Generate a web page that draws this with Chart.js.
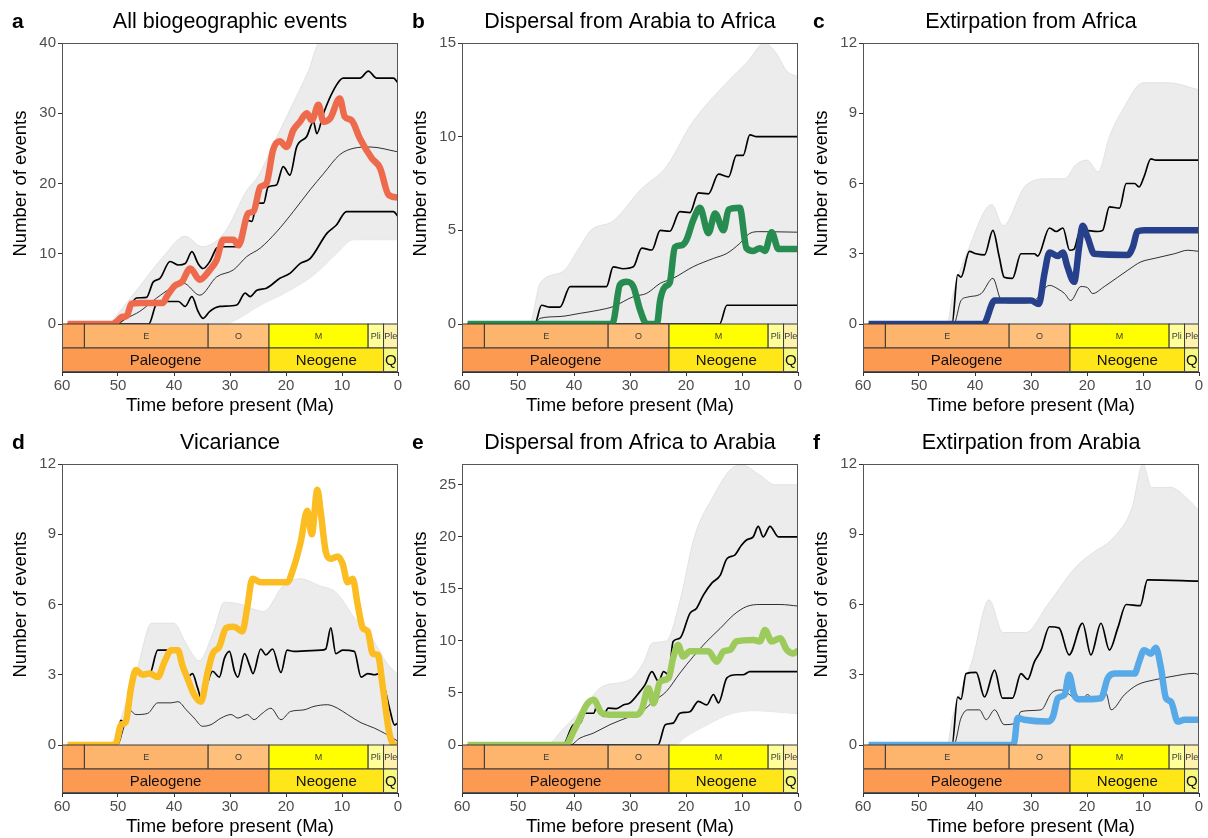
<!DOCTYPE html>
<html>
<head>
<meta charset="utf-8">
<script src="https://cdn.jsdelivr.net/npm/chart.js@4"></script>
<style>
  html, body { margin: 0; padding: 0; background: #fff; overflow: hidden; }
  #wrap { position: relative; width: 1208px; height: 838px; }
  #wrap canvas { position: absolute; }
</style>
</head>
<body>
<div id="wrap"></div>
<script>
// Geological timescale (Ma)
const epochNames = ['', 'E', 'O', 'M', 'Pli', 'Ple'];
const epochStart = [60, 56, 33.9, 23.03, 5.333, 2.58];
const epochEnd = [56, 33.9, 23.03, 5.333, 2.58, 0];
const epochColors = ['#FDA75F', '#FDB46C', '#FEC07A', '#FFFF00', '#FFFF99', '#FFF2AE'];
const periodNames = ['Paleogene', 'Neogene', 'Q'];
const periodStart = [60, 23.03, 2.58];
const periodEnd = [23.03, 2.58, 0];
const periodColors = ['#FD9A52', '#FFE619', '#F9F97F'];

const xTicks = [60, 50, 40, 30, 20, 10, 0];
const ticksA = [0, 10, 20, 30, 40];
const ticksB = [0, 5, 10, 15];
const ticks12 = [0, 3, 6, 9, 12];
const ticksE = [0, 5, 10, 15, 20, 25];

// a - All biogeographic events  [time, events]
const aObs = [[59,0],[51,0],[50.3,0.3],[49.3,1],[48.4,1.2],[47.6,2.9],[46,3],[42,3],[41.3,3.9],[39.8,5.5],[38.6,6],[37.1,7.9],[35.4,6.3],[33.6,7.7],[32.4,9.1],[31.2,12],[29.4,12],[28.5,11.2],[26.7,15.8],[25.8,16],[24.6,19.5],[23.5,20],[22.3,24.8],[21.1,26],[19.9,25.2],[18.7,27.6],[17.5,28.8],[16.3,30],[15.4,29],[14.2,31.2],[13.3,28.8],[12.1,29.3],[10.4,32.1],[9.5,29.5],[8.3,29],[6.8,26.4],[4.7,23.6],[3.2,22.2],[1.7,18.4],[0,18]];
const aHigh = [[59,0],[50.2,0],[48.5,1.5],[46.7,3.7],[44.9,3.8],[43.7,6],[42.5,6.5],[40.7,8.9],[39.2,8.4],[38,8.6],[36.8,10.3],[35.7,8.6],[34.8,7.9],[33.6,8.9],[32.4,10.8],[31.8,11],[28.8,11],[27,14.8],[26.1,14.6],[25.2,17.2],[24,17.2],[23.2,19.5],[21.7,19.8],[20.5,22.4],[19.3,21.2],[18.1,25.2],[16.3,26.7],[15.1,28.8],[14.5,27.1],[13.3,30],[11.5,33.3],[9.8,35],[6.8,35],[5.3,36],[3.8,35],[0.8,35],[0,34.3]];
const aMean = [[59,0],[50.2,0],[48.5,0.8],[46.1,1.8],[43.1,3.7],[40.1,5.3],[38.3,5.8],[35.4,4.1],[32.4,6.7],[29.4,7.7],[27,9.6],[24.6,10.8],[21.7,13.1],[18.7,16],[15.7,19.1],[13.3,21.4],[10.4,24.1],[8,25],[5,25.2],[0,24.5]];
const aLow = [[59,0],[44.5,0],[43.1,2.9],[41.3,3.2],[39.2,3.2],[38,2.5],[36.8,3.9],[35.7,1.8],[34.8,0.8],[33.6,1.8],[31.8,2.5],[28.8,2.7],[27.3,4.4],[26.4,3.9],[25.2,4.8],[23.5,5.1],[21.1,6.5],[19.3,7.2],[17.5,8.6],[15.7,9.3],[12.7,12.9],[11,14.1],[9.2,16],[0.8,16],[0,15.3]];
const aCloudTop = [[59,0],[52,0],[50,1.5],[46,5.5],[42,9.5],[38,12.5],[35,11],[31,13],[27,19],[25,21],[22,26],[19,31],[16,36],[14,40],[0,40]];
const aCloudBottom = [[59,0],[31,0],[28,1],[25,2.5],[20,4.5],[15,7],[11,10],[8,12],[0,12]];

// b - Dispersal from Arabia to Africa
const bObs = [[59,0],[33.5,0],[33,0.1],[31.8,2.1],[30.6,2.25],[29.4,2],[28.2,0.75],[27,0],[25.2,0],[24.6,1.3],[23.7,2],[22.9,2.2],[22,4.1],[20.8,4.2],[19.9,4.5],[18.7,5.55],[17.5,6.2],[16,4.85],[14.8,5.9],[13.3,5],[12.4,6.1],[10.4,6.2],[9.2,4.05],[8,3.9],[6.8,4.05],[5.9,3.9],[4.7,4.9],[3.5,4],[2,4],[0,4]];
const bHigh = [[59,0],[47,0],[45.8,1],[44.3,0.9],[42.5,0.9],[40.7,2],[34.2,2],[33,3.05],[31.2,2.95],[29.4,3.05],[27.9,4.05],[26.1,3.95],[24.6,5],[22.9,4.95],[21.1,6],[19.3,5.95],[17.8,7],[16,6.95],[14.2,8],[12.4,7.85],[11,9],[9.8,9],[8.6,10.1],[7.4,10],[0,10]];
const bMean = [[59,0],[47,0],[46.1,0.3],[42.5,0.4],[38.9,0.57],[35.4,0.75],[33,0.93],[29.4,1.46],[27,1.64],[24.6,2.17],[22.3,2.44],[18.7,3.06],[15.1,3.5],[12.7,3.77],[10.4,4.3],[8.6,4.84],[6.8,4.93],[0,4.9]];
const bLow = [[59,0],[14,0],[12.7,1],[0,1]];
const bCloudTop = [[59,0],[48,0],[46,2.2],[42,2.8],[39,4.1],[37,5],[33,5.5],[28,7.2],[23.5,8.4],[19,10.7],[13,12.8],[9,14],[6,15],[4,14.5],[2,13.5],[0,13.2]];
const bCloudBottom = [[59,0],[0,0]];

// c - Extirpation from Africa
const cObs = [[59,0],[38.5,0],[36.5,1],[30,1],[28.6,0.85],[27.6,2.15],[26.7,3.05],[25.2,2.9],[24.3,3.05],[23.5,2.45],[22.3,1.8],[21.4,3.3],[20.8,4.2],[19.9,3.7],[18.7,3],[12.7,2.95],[11.8,3.3],[11,3.95],[9.8,4],[0,4]];
const cHigh = [[59,0],[44.1,0],[43.1,2.1],[42.5,2],[41,3.1],[39.8,3],[38.3,2.95],[36.8,4],[35.7,2.9],[34.8,2],[33.3,1.95],[31.8,3],[29.4,3],[28.8,2.9],[26.7,4.1],[25.5,3.95],[24.3,4.1],[23.1,3.15],[22.3,3.2],[21.4,3.9],[20.5,4],[18.1,3.95],[17.2,4],[16,5],[14.2,4.95],[13,6],[11.5,6],[10.7,5.85],[9.8,6.3],[8.6,7.05],[7.7,7],[0,7]];
const cMean = [[59,0],[43.8,0],[42.5,1],[41.3,1.15],[38.9,1.3],[36.8,1.95],[35.4,1.05],[33.6,0.9],[31.8,0.9],[29.4,1],[26.7,1.65],[25.2,1.5],[24,1.3],[22.9,1],[21.1,1.6],[19.9,1.55],[19,1.3],[16.9,1.6],[14.5,2],[12.7,2.3],[10.4,2.65],[8,2.8],[4.4,3],[2,3.15],[0,3.1]];
const cCloudTop = [[59,0],[45,0],[44,1.2],[41,3.3],[37,5.1],[35,4.2],[31,5.9],[27,6.2],[24,6.2],[22,6.8],[20,7],[18,6.5],[16,8],[13.5,9.2],[10,10.3],[5.5,10.3],[0,10]];
const cCloudBottom = [[59,0],[0,0]];

// d - Vicariance
const dObs = [[59,0],[51.2,0],[50.4,0.05],[49.5,0.85],[48.6,1],[47.7,2.4],[46.8,3.2],[45.6,3],[44.4,3.05],[42.9,2.9],[41.7,3.55],[40.5,4.05],[39.3,4.05],[38.5,3.4],[37.6,2.85],[36.4,2.15],[35.2,1.85],[34,3.1],[33.1,3.9],[31.9,4.2],[30.7,5],[29.3,5.05],[27.8,4.85],[26.9,5.9],[26,7.1],[24.5,6.95],[19.8,6.95],[18.6,7.6],[17.4,8.65],[16.2,10],[15.4,9],[14.4,10.9],[13.8,9.95],[12.9,8.25],[12,7.95],[10.8,8.05],[9.9,7.75],[9,6.95],[8.1,7.1],[7.2,6],[6.3,5],[5.4,4.85],[4.5,3.9],[3.6,3.85],[2.7,2.45],[1.5,0.45],[0.6,0],[0,0]];
const dHigh = [[59,0],[50.4,0],[49.5,1.05],[48.6,0.9],[47.7,2.3],[46.8,3.2],[45.6,3],[44.4,3],[42.9,4.05],[39.6,4.05],[38.5,3.3],[37.6,2.9],[36.7,3.05],[35.8,2.45],[34.9,1.85],[34,2.65],[33.1,3.15],[31.9,2.9],[31,3.7],[30.1,4],[29.2,3.15],[28.6,2.9],[27.4,3.9],[26.5,3.4],[25.9,3.05],[24.5,4.1],[23.6,3.85],[22.4,4.1],[20.9,3.1],[19.8,4.05],[18.6,4],[13.8,4.05],[12.9,4.1],[12,5],[11.1,3.9],[9.9,4.05],[7.8,4],[6.6,2.9],[5.4,3.05],[4.2,3],[3.3,3.05],[2.4,2.45],[1.5,1.55],[0.6,0.85],[0,0.95]];
const dMean = [[59,0],[50.1,0],[48.9,0.8],[48,1.5],[46.8,1.3],[44.7,1.35],[42.9,1.8],[40.5,1.8],[39.3,1.85],[37.8,1.5],[36.4,1.15],[34.9,0.8],[33.4,0.87],[31.6,1.15],[29.8,1.3],[28.6,1.15],[26.9,1.3],[25.7,1.08],[24.5,1.3],[22.7,1.57],[20.9,1.08],[19.2,1.43],[16.8,1.5],[15,1.65],[12.6,1.72],[10.8,1.57],[9,1.3],[6.6,0.95],[4.2,0.72],[2.4,0.5],[0,0.16]];
const dCloudTop = [[59,0],[51,0],[49,1.5],[46.5,3.3],[44,5.2],[40,5.2],[38,4.4],[35.5,3.6],[33,4.8],[31,6.1],[28,6],[24,5.7],[20.5,6.8],[17.5,7.1],[14,6.8],[11,6.5],[8,5.5],[4.5,4.5],[2,3.5],[0,3]];
const dCloudBottom = [[59,0],[0,0]];

// e - Dispersal from Africa to Arabia
const eObs = [[59,0],[41.5,0],[40.1,1.3],[38.9,2.6],[37.7,3.9],[36.5,4.35],[35.1,3.1],[33.6,2.9],[28.8,2.9],[27.9,3.4],[26.7,5.45],[25.8,4],[24.6,6.1],[23.1,6.45],[22.3,8.35],[21.4,9.6],[20.5,8.5],[19.3,9],[16,9],[14.5,8],[13.3,9],[12.1,9.15],[11,9.95],[8,10.1],[6.8,9.95],[5.9,11.05],[4.7,9.95],[3.2,10.25],[2,9.15],[0.8,8.8],[0,9.1]];
const eHigh = [[59,0],[42,0],[40.1,1.95],[38.9,2.1],[38,3.05],[36.5,3.05],[35.7,4.05],[34.8,2.75],[33.9,3.55],[32.4,3.5],[31.2,3.85],[30,4.05],[28.2,5.15],[27.3,5.8],[26.1,7.05],[24.9,6.1],[24,7.05],[23.1,6.75],[22.3,9.95],[21.1,10.25],[19.3,12.65],[18.1,13.15],[16.9,14.4],[15.4,15.55],[13.9,16.3],[12.7,17.9],[11.3,18.25],[10.1,19.2],[9.2,19.7],[8,20],[7.1,21],[6.2,20],[5,21],[3.5,20],[0,20]];
const eMean = [[59,0],[40.7,0],[38.9,0.67],[36.5,1.15],[33.6,1.95],[30.6,2.6],[28.2,3.07],[25.8,4.2],[23.5,5.15],[21.1,6.9],[18.7,8.5],[16.3,9.95],[13.9,11.2],[11.5,12.5],[9.2,13.3],[6.8,13.5],[3.2,13.5],[0,13.35]];
const eLow = [[59,0],[25,0],[23.7,1.95],[22.3,2.1],[21.1,3.05],[19.3,3.2],[17.8,4.2],[16.3,3.85],[15.1,4.85],[14.2,4.05],[12.7,6.45],[11,6.75],[9.8,6.75],[8.6,7.05],[0,7.05]];
const eCloudTop = [[59,0],[45,0],[42,1.5],[38,3.8],[35,5.6],[30,6.3],[27.5,8],[26,9.8],[23.5,10],[21,14],[18.5,20],[15,24],[12,26.5],[10,26.9],[7,26],[4,25],[0,25]];
const eCloudBottom = [[59,0],[22,0],[20,0.8],[16,2],[12,3],[8,3.3],[0,3]];

// f - Extirpation from Arabia
const fObs = [[59,0],[33.6,0],[33,0.1],[32.4,1.15],[31.2,1.08],[27,1],[26.1,1.2],[25.2,2],[24,2.15],[23.2,3],[22.3,2.15],[21.4,1.95],[17.5,2],[16.3,2.85],[15.1,3.05],[11.5,3.05],[10.7,3.55],[9.8,4.05],[8.6,3.9],[7.7,4.15],[6.8,3.3],[5.9,2],[5,1.85],[3.8,1],[2.6,1.08],[0,1.08]];
const fHigh = [[59,0],[44.1,0],[43.1,2.05],[42.5,1.95],[41.6,3.05],[39.8,3.1],[38.3,2.05],[36.5,3.2],[35.1,2],[33.3,2],[31.8,3.05],[30.6,2.8],[29.4,3.55],[28.2,4.05],[26.7,5.05],[25,5],[23.2,3.85],[20.8,5.2],[19.3,3.85],[17.5,5.2],[16,4.05],[14.5,5],[13,6],[10.5,5.95],[9.2,7.05],[0,7]];
const fMean = [[59,0],[43.8,0],[42.5,1.15],[41.3,1.5],[39.2,1.5],[38,1.08],[36.5,1.5],[34.8,0.87],[32.7,0.94],[31.8,1.43],[28.2,1.5],[26.4,2.2],[24.6,2.35],[23.1,2.15],[21.4,1.85],[19.9,2.15],[18.4,1.85],[16.6,2.2],[15.7,1.5],[13.3,2.15],[11,2.57],[8,2.78],[5,2.92],[0.8,3.06],[0,3]];
const fCloudTop = [[59,0],[45,0],[44,1.2],[40.5,3.6],[37.5,6.2],[35,4.8],[31,4.8],[27,6],[22,7.6],[19,8.2],[15.5,8.8],[12,10.1],[10,12],[8.5,11],[5,11],[2,10.5],[0,10]];
const fCloudBottom = [[59,0],[0,0]];

const FONT = "'Liberation Sans', Arial, Helvetica, sans-serif";
Chart.defaults.font.family = FONT;

const panels = [
    { letter: 'a', title: 'All biogeographic events', yMax: 40, yTicks: ticksA, color: '#EE6A4C', obs: aObs, high: aHigh, low: aLow, mean: aMean, top: aCloudTop, bottom: aCloudBottom },
    { letter: 'b', title: 'Dispersal from Arabia to Africa', yMax: 15, yTicks: ticksB, color: '#278C4F', obs: bObs, high: bHigh, low: bLow, mean: bMean, top: bCloudTop, bottom: bCloudBottom },
    { letter: 'c', title: 'Extirpation from Africa', yMax: 12, yTicks: ticks12, color: '#27408B', obs: cObs, high: cHigh, low: null, mean: cMean, top: cCloudTop, bottom: cCloudBottom },
    { letter: 'd', title: 'Vicariance', yMax: 12, yTicks: ticks12, color: '#FCBD22', obs: dObs, high: dHigh, low: null, mean: dMean, top: dCloudTop, bottom: dCloudBottom },
    { letter: 'e', title: 'Dispersal from Africa to Arabia', yMax: 27, yTicks: ticksE, color: '#9CCB5B', obs: eObs, high: eHigh, low: eLow, mean: eMean, top: eCloudTop, bottom: eCloudBottom },
    { letter: 'f', title: 'Extirpation from Arabia', yMax: 12, yTicks: ticks12, color: '#58A9E7', obs: fObs, high: fHigh, low: null, mean: fMean, top: fCloudTop, bottom: fCloudBottom }
];

const colLeft = [0, 400, 801];
const rowTop = [0, 421];
const toXY = arr => arr.map(p => ({ x: p[0], y: p[1] }));

function drawRow(ctx, x, top, bottom, starts, ends, names, colors, fontSize) {
    for (let i = 0; i < names.length; i++) {
        const x1 = x.getPixelForValue(starts[i]);
        const x2 = x.getPixelForValue(ends[i]);
        ctx.fillStyle = colors[i];
        ctx.fillRect(x1, top, x2 - x1, bottom - top);
        ctx.strokeStyle = '#3a3a3a';
        ctx.lineWidth = 1;
        ctx.strokeRect(x1, top, x2 - x1, bottom - top);
        if (names[i]) {
            ctx.fillStyle = fontSize > 12 ? '#111' : '#3a3a3a';
            ctx.font = fontSize + 'px ' + FONT;
            ctx.textAlign = 'center';
            ctx.textBaseline = 'middle';
            ctx.fillText(names[i], (x1 + x2) / 2, (top + bottom) / 2 + 1);
        }
    }
}

// timescale bar, frame and titles
const panelDecor = {
    id: 'panelDecor',
    afterDatasetsDraw(chart, args, opts) {
        const { ctx, chartArea: ca, scales: { x, y } } = chart;
        const y0 = y.getPixelForValue(0);
        const yMid = y.getPixelForValue(y.min / 2);
        const yB = y.getPixelForValue(y.min);
        ctx.save();
        ctx.beginPath();
        ctx.rect(ca.left, ca.top, ca.width, ca.height);
        ctx.clip();
        drawRow(ctx, x, y0, yMid, epochStart, epochEnd, epochNames, epochColors, 9);
        drawRow(ctx, x, yMid, yB, periodStart, periodEnd, periodNames, periodColors, 15);
        ctx.restore();

        ctx.save();
        ctx.strokeStyle = '#555';
        ctx.lineWidth = 1;
        ctx.strokeRect(ca.left + 0.5, ca.top + 0.5, ca.width - 1, ca.height - 1);

        ctx.fillStyle = '#000';
        ctx.textBaseline = 'middle';
        ctx.font = '21.5px ' + FONT;
        ctx.textAlign = 'center';
        ctx.fillText(opts.title, (ca.left + ca.right) / 2, ca.top - 21);
        ctx.font = 'bold 21px ' + FONT;
        ctx.textAlign = 'left';
        ctx.fillText(opts.letter, 12, ca.top - 21);

        ctx.font = '18.5px ' + FONT;
        ctx.textAlign = 'center';
        ctx.fillText('Time before present (Ma)', (ca.left + ca.right) / 2, ca.bottom + 34);
        ctx.translate(21, (ca.top + y0) / 2);
        ctx.rotate(-Math.PI / 2);
        ctx.fillText('Number of events', 0, 0);
        ctx.restore();
    }
};

const wrap = document.getElementById('wrap');

panels.forEach((p, i) => {
    const cv = document.createElement('canvas');
    cv.width = 404;
    cv.height = 420;
    cv.style.left = colLeft[i % 3] + 'px';
    cv.style.top = rowTop[Math.floor(i / 3)] + 'px';
    cv.style.width = '404px';
    cv.style.height = '420px';
    wrap.appendChild(cv);

    const black = (data, w) => ({
        data: toXY(data), borderColor: '#000', borderWidth: w, pointRadius: 0,
        cubicInterpolationMode: 'monotone', fill: false, order: 1
    });

    const datasets = [{
        data: toXY(p.obs),
        borderColor: p.color,
        borderWidth: 6.5,
        borderJoinStyle: 'round',
        pointRadius: 0,
        cubicInterpolationMode: 'monotone',
        fill: false,
        order: 0
    },
    black(p.high, 1.7),
    black(p.mean, 0.8)];
    if (p.low) datasets.push(black(p.low, 1.7));
    datasets.push({
        data: toXY(p.top),
        borderColor: '#e2e2e2',
        borderWidth: 1,
        backgroundColor: '#ececec',
        pointRadius: 0,
        cubicInterpolationMode: 'monotone',
        fill: '+1',
        order: 5
    });
    datasets.push({
        data: toXY(p.bottom),
        borderColor: '#e2e2e2',
        borderWidth: 1,
        pointRadius: 0,
        cubicInterpolationMode: 'monotone',
        fill: false,
        order: 6
    });

    const yMin = -p.yMax * 48 / 281;
    const tickFont = { size: 15, family: FONT };

    new Chart(cv, {
        type: 'line',
        data: { datasets },
        options: {
            responsive: false,
            animation: false,
            devicePixelRatio: 1,
            layout: { padding: { top: 43, right: 6, bottom: 0, left: 0 } },
            plugins: {
                legend: { display: false },
                tooltip: { enabled: false },
                panelDecor: { title: p.title, letter: p.letter }
            },
            scales: {
                x: {
                    type: 'linear', min: 0, max: 60, reverse: true,
                    afterBuildTicks: s => { s.ticks = xTicks.map(v => ({ value: v })); },
                    afterFit: s => { s.height = 48; },
                    ticks: { color: '#4d4d4d', font: tickFont, padding: 1, maxRotation: 0 },
                    grid: { drawOnChartArea: false, tickLength: 4, color: '#333' },
                    border: { color: '#333', width: 1 }
                },
                y: {
                    type: 'linear', min: yMin, max: p.yMax,
                    afterBuildTicks: s => { s.ticks = p.yTicks.map(v => ({ value: v })); },
                    afterFit: s => { s.width = 62; },
                    ticks: { color: '#4d4d4d', font: tickFont, padding: 2 },
                    grid: { drawOnChartArea: false, tickLength: 4, color: '#333' },
                    border: { color: '#333', width: 1 }
                }
            }
        },
        plugins: [panelDecor]
    });
});
</script>
</body>
</html>
